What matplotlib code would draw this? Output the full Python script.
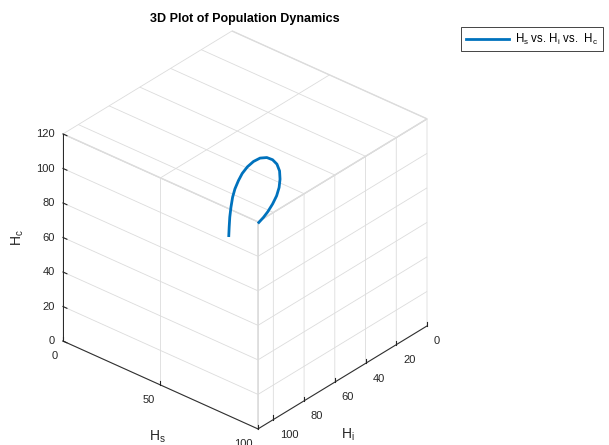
import matplotlib
matplotlib.use('Agg')
import matplotlib.pyplot as plt
from mpl_toolkits.mplot3d import proj3d

plt.rcParams['font.family'] = ['Liberation Sans', 'DejaVu Sans']

W, H = 609, 445
ink = '#262626'
blue = '#0072BD'

# trajectory
Hs = [27.5, 26.2, 24.7, 23.4, 22.2, 21.5, 21.1, 21.0, 21.4, 22.3, 23.6,
      25.5, 27.5, 29.5, 31.4, 32.9, 34.0, 34.7, 34.9, 34.8, 34.5, 34.0]
Hi = [37.0, 35.1, 32.8, 30.4, 27.8, 25.4, 22.6, 20.0, 17.1, 14.3, 11.7,
      9.7, 8.5, 8.2, 8.9, 10.5, 12.5, 15.0, 17.9, 20.9, 23.3, 25.7]
Hc = [35.5, 38.7, 42.5, 46.2, 50.0, 53.2, 56.3, 59.0, 61.5, 63.5, 64.7,
      64.9, 64.0, 62.3, 59.7, 56.6, 53.4, 50.3, 47.2, 44.3, 42.2, 40.3]

xticks = [0, 50, 100]
yticks = [0, 20, 40, 60, 80, 100]
zticks = [0, 20, 40, 60, 80, 100, 120]

fig = plt.figure(figsize=(W / 100, H / 100), dpi=100)
ax = fig.add_axes([0.05, 0.0, 0.7, 0.95], projection='3d', proj_type='ortho')
ax.view_init(elev=-31.6, azim=229.3)
ax.set_box_aspect((257, 259, 243))

line, = ax.plot(Hs, Hi, Hc, color=blue, lw=2, solid_joinstyle='round')

ax.set_xlim(0, 100)
ax.set_ylim(0, 110)
ax.set_zlim(0, 120)
ax.set_xticks(xticks)
ax.set_yticks(yticks)
ax.set_zticks(zticks)
ax.tick_params(colors=ink, labelsize=8)
ax.tick_params(axis='x', pad=-3)
ax.tick_params(axis='y', pad=-2.5)
ax.tick_params(axis='z', pad=-4.5)
plt.setp(ax.get_xticklabels(), ha='right', va='top')
plt.setp(ax.get_yticklabels(), ha='left', va='top')
plt.setp(ax.get_zticklabels(), ha='right', va='center')
ax.xaxis.set_ticks_position('lower')
ax.yaxis.set_ticks_position('lower')

for axis in (ax.xaxis, ax.yaxis, ax.zaxis):
    axis.set_pane_color((1, 1, 1, 1))
    axis.pane.set_edgecolor('#dcdcdc')
    axis._axinfo['grid'].update(color='#dcdcdc', linewidth=0.6)
    axis._axinfo['tick'].update(inward_factor=0, outward_factor=0.25)
    axis.line.set_color(ink)
    axis.line.set_linewidth(0.7)

# put the box where the reference has it
fig.canvas.draw()


def to_px(x, y, z):
    xs, ys, _ = proj3d.proj_transform(x, y, z, ax.M)
    px, py = ax.transData.transform((xs, ys))
    return px, H - py


lx, ly = to_px(0, 110, 0)
rx, ry = to_px(100, 0, 0)
k = (427 - 63) / (rx - lx)
bb = ax.get_position()
cx, cy = (bb.x0 + bb.x1) / 2 * W, H - (bb.y0 + bb.y1) / 2 * H
ncx = (63 + 427) / 2 - k * ((lx + rx) / 2 - cx)
ncy = (342 + 325) / 2 - k * ((ly + ry) / 2 - cy)
side = bb.width * W * k
ax.set_position([(ncx - side / 2) / W, 1 - (ncy + side / 2) / H, side / W, side / H])

fig.text(245 / W, 1 - 19 / H, '3D Plot of Population Dynamics', ha='center', va='center',
         fontsize=9, fontweight='bold', color='black')
fig.text(157 / W, 1 - 437 / H, r'$\mathregular{H_s}$', ha='center', va='center', fontsize=10, color=ink)
fig.text(348 / W, 1 - 435 / H, r'$\mathregular{H_i}$', ha='center', va='center', fontsize=10, color=ink)
fig.text(18 / W, 1 - 238 / H, r'$\mathregular{H_c}$', ha='center', va='center', fontsize=10,
         rotation=90, color=ink)

leg = fig.legend([line], [r'$\mathregular{H_s}$ vs. $\mathregular{H_i}$ vs.  $\mathregular{H_c}$'],
                 loc='upper left', bbox_to_anchor=(461 / W, 1 - 27 / H), fontsize=8.3,
                 handlelength=3.8, handletextpad=0.5, fancybox=False, framealpha=1,
                 edgecolor=ink, borderaxespad=0)
leg.get_frame().set_linewidth(0.6)

fig.savefig('out.png', dpi=100)
